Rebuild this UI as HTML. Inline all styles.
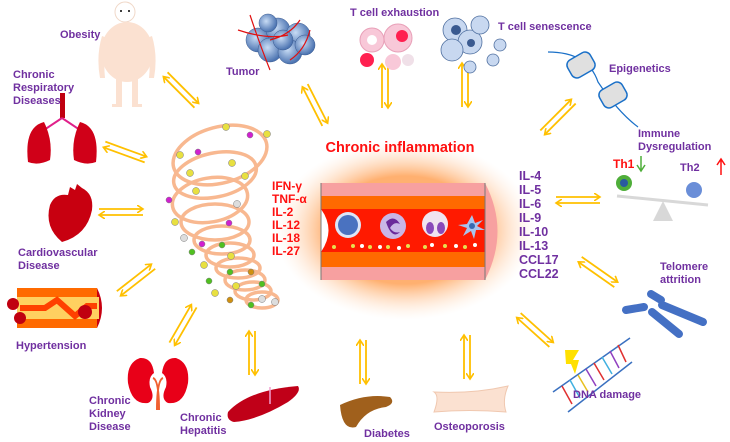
<!DOCTYPE html>
<html><head><meta charset="utf-8"><style>
html,body{margin:0;padding:0;background:#fff;}
svg{display:block;}
.p{font-family:"Liberation Sans",sans-serif;font-weight:bold;font-size:11px;fill:#7030a0;}
.r{font-family:"Liberation Sans",sans-serif;font-weight:bold;font-size:12px;fill:#ff1010;}
.c{font-family:"Liberation Sans",sans-serif;font-weight:bold;font-size:12.5px;fill:#7030a0;}
</style></head><body>
<svg width="730" height="442" viewBox="0 0 730 442" xmlns="http://www.w3.org/2000/svg">
<defs>
<marker id="ah" markerWidth="8" markerHeight="8" refX="6" refY="4" orient="auto" markerUnits="userSpaceOnUse">
<path d="M0,0 L6,4 L0,8" fill="none" stroke="#ffc000" stroke-width="1.6"/></marker>
<g id="arr">
<line x1="-22" y1="-3" x2="22" y2="-3" stroke="#ffc000" stroke-width="1.8" marker-end="url(#ah)"/>
<line x1="22" y1="3" x2="-22" y2="3" stroke="#ffc000" stroke-width="1.8" marker-end="url(#ah)"/>
</g>
<radialGradient id="glow" cx="50%" cy="50%" r="50%">
<stop offset="0.6" stop-color="#ffb070"/><stop offset="1" stop-color="#ffe8d6" stop-opacity="0"/></radialGradient>
<radialGradient id="bl" cx="40%" cy="40%" r="60%"><stop offset="0" stop-color="#c8dcf5"/><stop offset="1" stop-color="#4a72b0"/></radialGradient>
</defs>

<!-- arrows -->
<use href="#arr" transform="translate(181,90) rotate(45)"/>
<use href="#arr" transform="translate(125,152) rotate(20)"/>
<use href="#arr" transform="translate(121,212)"/>
<use href="#arr" transform="translate(136,280) rotate(-38)"/>
<use href="#arr" transform="translate(183,325) rotate(-60)"/>
<use href="#arr" transform="translate(252,353) rotate(90)"/>
<use href="#arr" transform="translate(363,362) rotate(90)"/>
<use href="#arr" transform="translate(467,357) rotate(90)"/>
<use href="#arr" transform="translate(535,330) rotate(42)"/>
<use href="#arr" transform="translate(598,272) rotate(35)"/>
<use href="#arr" transform="translate(578,200)"/>
<use href="#arr" transform="translate(558,117) rotate(-45)"/>
<use href="#arr" transform="translate(465,85) rotate(90)"/>
<use href="#arr" transform="translate(385,86) rotate(90)"/>
<use href="#arr" transform="translate(315,105) rotate(63)"/>

<!-- central vessel -->
<rect x="275" y="140" width="260" height="180" rx="60" fill="url(#glow)"/>
<rect x="321" y="183" width="164" height="97" fill="#f7a0a0"/>
<path d="M485,183 Q510,231 485,280 Z" fill="#f7a0a0"/>
<rect x="321" y="196" width="164" height="71" fill="#ff6a00"/>
<rect x="321" y="209" width="164" height="43" fill="#ff1a00"/>
<path d="M321,209 Q336,230 321,252 Z" fill="#fff"/>
<line x1="321" y1="183" x2="321" y2="280" stroke="#777" stroke-width="1"/>
<line x1="485" y1="183" x2="485" y2="280" stroke="#777" stroke-width="1"/>
<circle cx="348" cy="225" r="13" fill="#dde6f8"/><circle cx="348" cy="225" r="10" fill="#4a72c0"/>
<circle cx="393" cy="226" r="13" fill="#c9b6e6"/><path d="M386,222 q8,-8 14,2 q-6,-3 -10,4 q4,6 10,4 q-8,8 -14,-10z" fill="#6a2a9a"/>
<circle cx="435" cy="224" r="13" fill="#f0e4f0"/><ellipse cx="430" cy="228" rx="4" ry="6" fill="#8a4aba"/><ellipse cx="441" cy="228" rx="4" ry="6" fill="#8a4aba"/>
<path d="M472,215 l3,8 l8,-3 l-6,6 l8,4 l-9,0 l-2,9 l-3,-8 l-8,5 l4,-8 l-9,-3 l9,-1z" fill="#a8c4ee"/><circle cx="472" cy="226" r="3" fill="#3a6ab0"/>
<g fill="#e8e050"><circle cx="334" cy="247" r="2"/><circle cx="353" cy="246" r="2"/><circle cx="370" cy="247" r="2"/><circle cx="388" cy="247" r="2"/><circle cx="408" cy="246" r="2"/><circle cx="425" cy="247" r="2"/><circle cx="445" cy="246" r="2"/><circle cx="465" cy="247" r="2"/></g>
<g fill="#fff"><circle cx="362" cy="246" r="2"/><circle cx="380" cy="247" r="2"/><circle cx="399" cy="248" r="2"/><circle cx="432" cy="245" r="2"/><circle cx="456" cy="246" r="2"/><circle cx="475" cy="245" r="2"/></g>
<text x="400" y="152" text-anchor="middle" font-family="Liberation Sans,sans-serif" font-weight="bold" font-size="14.5" fill="#ff1010">Chronic inflammation</text>
<g class="r"><text x="272" y="190">IFN-γ</text><text x="272" y="203">TNF-α</text><text x="272" y="216">IL-2</text><text x="272" y="229">IL-12</text><text x="272" y="242">IL-18</text><text x="272" y="255">IL-27</text></g>
<g class="c"><text x="519" y="180">IL-4</text><text x="519" y="194">IL-5</text><text x="519" y="208">IL-6</text><text x="519" y="222">IL-9</text><text x="519" y="236">IL-10</text><text x="519" y="250">IL-13</text><text x="519" y="264">CCL17</text><text x="519" y="278">CCL22</text></g>

<!-- tornado -->
<g fill="none" stroke="#f8b890" stroke-width="3.5">
<ellipse cx="220" cy="155" rx="48" ry="28" transform="rotate(-15 220 155)"/>
<ellipse cx="215" cy="175" rx="42" ry="22" transform="rotate(-12 215 175)"/>
<ellipse cx="210" cy="200" rx="38" ry="22" transform="rotate(-10 210 200)"/>
<ellipse cx="215" cy="222" rx="34" ry="18"/>
<ellipse cx="222" cy="240" rx="28" ry="14"/>
<ellipse cx="230" cy="255" rx="24" ry="12"/>
<ellipse cx="238" cy="268" rx="22" ry="10"/>
<ellipse cx="245" cy="280" rx="20" ry="10"/>
<ellipse cx="253" cy="291" rx="18" ry="9"/>
<ellipse cx="262" cy="300" rx="16" ry="8"/>
</g>
<g stroke="#777" stroke-width="0.5">
<circle cx="226" cy="127" r="3.5" fill="#e8e040"/><circle cx="250" cy="135" r="3" fill="#d020d0"/><circle cx="267" cy="134" r="3.5" fill="#e8e040"/>
<circle cx="180" cy="155" r="3.5" fill="#e8e040"/><circle cx="198" cy="152" r="3" fill="#d020d0"/><circle cx="232" cy="163" r="3.5" fill="#e8e040"/>
<circle cx="190" cy="173" r="3.5" fill="#e8e040"/><circle cx="245" cy="176" r="3.5" fill="#e8e040"/><circle cx="196" cy="191" r="3.5" fill="#e8e040"/>
<circle cx="169" cy="200" r="3" fill="#d020d0"/><circle cx="237" cy="204" r="3.5" fill="#ddd"/><circle cx="175" cy="222" r="3.5" fill="#e8e040"/>
<circle cx="229" cy="223" r="3" fill="#d020d0"/><circle cx="184" cy="238" r="3.5" fill="#ddd"/><circle cx="202" cy="244" r="3" fill="#d020d0"/>
<circle cx="222" cy="245" r="3" fill="#50c020"/><circle cx="192" cy="252" r="3" fill="#50c020"/><circle cx="231" cy="256" r="3.5" fill="#e8e040"/>
<circle cx="204" cy="265" r="3.5" fill="#e8e040"/><circle cx="230" cy="272" r="3" fill="#50c020"/><circle cx="251" cy="272" r="3" fill="#d09010"/>
<circle cx="209" cy="281" r="3" fill="#50c020"/><circle cx="236" cy="286" r="3.5" fill="#e8e040"/><circle cx="262" cy="284" r="3" fill="#50c020"/>
<circle cx="215" cy="293" r="3.5" fill="#e8e040"/><circle cx="230" cy="300" r="3" fill="#d09010"/><circle cx="251" cy="305" r="3" fill="#50c020"/><circle cx="262" cy="299" r="3.5" fill="#ddd"/><circle cx="275" cy="302" r="3.5" fill="#ddd"/>
</g>

<!-- obesity figure -->
<g fill="#fbe1d1">
<circle cx="125" cy="12" r="10" fill="#fff" stroke="#f0d8c8"/>
<ellipse cx="127" cy="52" rx="26" ry="30"/>
<path d="M102,36 q-6,20 -2,42 h5 q-2,-20 2,-40z M152,36 q6,20 2,42 h-5 q2,-20 -2,-40z"/>
<rect x="116" y="78" width="6" height="28"/><rect x="132" y="78" width="6" height="28"/>
<rect x="112" y="104" width="10" height="3"/><rect x="132" y="104" width="10" height="3"/>
</g>
<circle cx="121" cy="11" r="1" fill="#000"/><circle cx="129" cy="11" r="1" fill="#000"/>
<text x="60" y="38" class="p">Obesity</text>

<!-- lungs -->
<rect x="60" y="93" width="5" height="25" fill="#c00010"/>
<path d="M62,118 l-18,12 M62,118 l18,12" stroke="#e0208a" stroke-width="2"/>
<path d="M44,122 q-20,5 -16,40 q10,4 22,-2 q3,-20 -6,-38z" fill="#d00018"/>
<path d="M80,122 q20,5 16,40 q-10,4 -22,-2 q-3,-20 6,-38z" fill="#d00018"/>
<g class="p"><text x="13" y="78">Chronic</text><text x="13" y="91">Respiratory</text><text x="13" y="104">Diseases</text></g>

<!-- heart -->
<path d="M50,205 q5,-12 18,-10 l2,-8 l5,3 l2,-6 l5,4 q12,6 10,22 q-5,25 -30,32 q-18,-15 -12,-37z" fill="#c80010"/>
<g class="p"><text x="18" y="256">Cardiovascular</text><text x="18" y="269">Disease</text></g>

<!-- hypertension -->
<rect x="17" y="288" width="80" height="40" fill="#ff6a00"/>
<path d="M97,288 q10,20 0,40z" fill="#c80010"/>
<rect x="17" y="297" width="82" height="22" fill="#ffd060"/>
<path d="M20,308 h25 l12,-8 l18,16 l12,-10 h10" stroke="#ff4000" stroke-width="6" fill="none"/>
<circle cx="13" cy="304" r="6" fill="#c00010"/><circle cx="20" cy="318" r="6" fill="#c00010"/><circle cx="85" cy="312" r="7" fill="#c00010"/>
<text x="16" y="349" class="p">Hypertension</text>

<!-- kidneys -->
<path d="M140,358 q-14,5 -12,25 q4,22 20,20 q8,-4 2,-16 q-2,-10 4,-14 q-2,-16 -14,-15z" fill="#e80018"/>
<path d="M176,358 q14,5 12,25 q-4,22 -20,20 q-8,-4 -2,-16 q2,-10 -4,-14 q2,-16 14,-15z" fill="#e80018"/>
<path d="M153,378 q6,2 6,32 M163,378 q-6,2 -6,32" stroke="#f06030" stroke-width="2" fill="none"/>
<g class="p"><text x="89" y="404">Chronic</text><text x="89" y="417">Kidney</text><text x="89" y="430">Disease</text></g>

<!-- liver -->
<path d="M228,412 q20,-22 70,-26 q4,6 -10,16 q-30,18 -54,20 q-8,-2 -6,-10z" fill="#c00018"/>
<line x1="270" y1="387" x2="270" y2="404" stroke="#f0a0d0" stroke-width="1.5"/>
<g class="p"><text x="180" y="421">Chronic</text><text x="180" y="434">Hepatitis</text></g>

<!-- pancreas -->
<path d="M340,405 q25,-12 50,-8 q6,6 -4,10 q-20,2 -30,20 q-14,4 -16,-22z" fill="#a0601c"/>
<text x="364" y="437" class="p">Diabetes</text>

<!-- bone -->
<path d="M434,392 q6,4 0,20 q35,-3 72,0 q-4,-12 2,-26 q-35,8 -74,6z" fill="#fbe1d1" stroke="#f0c8b0"/>
<text x="434" y="430" class="p">Osteoporosis</text>

<!-- DNA -->
<g stroke="#3a70c0" stroke-width="1.5" fill="none">
<path d="M553,392 L630,338"/><path d="M568,412 L632,362"/>
</g>
<g stroke-width="1.5">
<line x1="562" y1="386" x2="572" y2="404" stroke="#e03030"/><line x1="570" y1="380" x2="580" y2="398" stroke="#40b0e0"/>
<line x1="578" y1="375" x2="588" y2="392" stroke="#e8c020"/><line x1="586" y1="369" x2="596" y2="386" stroke="#9040c0"/>
<line x1="594" y1="363" x2="604" y2="380" stroke="#e03030"/><line x1="602" y1="357" x2="612" y2="374" stroke="#40b0e0"/>
<line x1="610" y1="351" x2="619" y2="368" stroke="#9040c0"/><line x1="618" y1="345" x2="626" y2="362" stroke="#e03030"/>
</g>
<path d="M565,350 l14,0 l-6,10 l6,0 l-4,14 l-4,-10 l-5,0z" fill="#ffe000"/>
<text x="573" y="398" class="p">DNA damage</text>

<!-- telomere chromosome -->
<g stroke="#4470c4" stroke-width="8" stroke-linecap="round">
<line x1="626" y1="310" x2="644" y2="307"/>
<line x1="662" y1="305" x2="703" y2="322"/>
<line x1="651" y1="294" x2="661" y2="300"/>
<line x1="652" y1="312" x2="679" y2="334"/>
</g>
<g class="p"><text x="660" y="270">Telomere</text><text x="660" y="283">attrition</text></g>

<!-- immune seesaw -->
<line x1="617" y1="196" x2="708" y2="205" stroke="#d8d8d8" stroke-width="3"/>
<path d="M663,201 l-10,20 h20z" fill="#d8d8d8"/>
<circle cx="624" cy="183" r="8" fill="#4fae3a"/><circle cx="624" cy="183" r="4" fill="#2a5aa0"/>
<circle cx="694" cy="190" r="8" fill="#6a8ed8"/>
<g class="p"><text x="638" y="137">Immune</text><text x="638" y="150">Dysregulation</text></g>
<text x="613" y="168" class="r">Th1</text><text x="680" y="171" class="p" font-size="12">Th2</text>
<path d="M641,156 v14 M637,165 l4,6 l4,-6" stroke="#4fae3a" stroke-width="1.5" fill="none"/>
<path d="M721,175 v-15 M717,165 l4,-6 l4,6" stroke="#ff1010" stroke-width="1.5" fill="none"/>

<!-- epigenetics -->
<path d="M548,52 q40,0 50,30 q20,30 40,45" stroke="#1a70c8" fill="none" stroke-width="1.2"/>
<g fill="#e0e0e0" stroke="#1a70c8" stroke-width="1.5">
<rect x="568" y="55" width="26" height="20" rx="6" transform="rotate(-30 581 65)"/>
<rect x="600" y="85" width="26" height="20" rx="6" transform="rotate(-30 613 95)"/>
</g>
<text x="609" y="72" class="p">Epigenetics</text>

<!-- tumor -->
<g fill="url(#bl)" stroke="#3a5a90" stroke-width="0.5">
<circle cx="258" cy="40" r="12"/><circle cx="278" cy="30" r="12"/><circle cx="298" cy="35" r="12"/><circle cx="270" cy="50" r="12"/><circle cx="290" cy="52" r="12"/><circle cx="305" cy="45" r="10"/><circle cx="283" cy="40" r="10"/><circle cx="268" cy="23" r="9"/>
</g>
<path d="M238,30 q30,10 50,5 M250,15 q10,30 20,55 M300,20 q-10,15 -30,20 M310,30 q-5,20 -20,30" stroke="#e01010" stroke-width="1.2" fill="none"/>
<text x="226" y="75" class="p">Tumor</text>

<!-- T cell exhaustion -->
<circle cx="372" cy="40" r="12" fill="#f8c8d8" stroke="#e8a0b8"/><circle cx="372" cy="40" r="5" fill="#fff"/>
<circle cx="398" cy="38" r="14" fill="#f8c8d8" stroke="#e8a0b8"/><circle cx="402" cy="36" r="6" fill="#ff2050"/>
<circle cx="367" cy="60" r="7" fill="#ff2050"/><circle cx="393" cy="62" r="8" fill="#f8c8d8"/><circle cx="408" cy="60" r="6" fill="#f0e0e8"/>
<text x="350" y="16" class="p">T cell exhaustion</text>

<!-- T cell senescence -->
<g fill="#c8d8f0" stroke="#5070a0" stroke-width="0.8">
<circle cx="455" cy="30" r="12"/><circle cx="470" cy="42" r="12"/><circle cx="452" cy="50" r="11"/><circle cx="480" cy="25" r="9"/>
<circle cx="500" cy="45" r="6"/><circle cx="493" cy="60" r="6"/><circle cx="470" cy="67" r="6"/>
</g>
<circle cx="456" cy="30" r="5" fill="#3a5a90"/><circle cx="471" cy="43" r="4" fill="#3a5a90"/>
<text x="498" y="30" class="p">T cell senescence</text>
</svg>
</body></html>
